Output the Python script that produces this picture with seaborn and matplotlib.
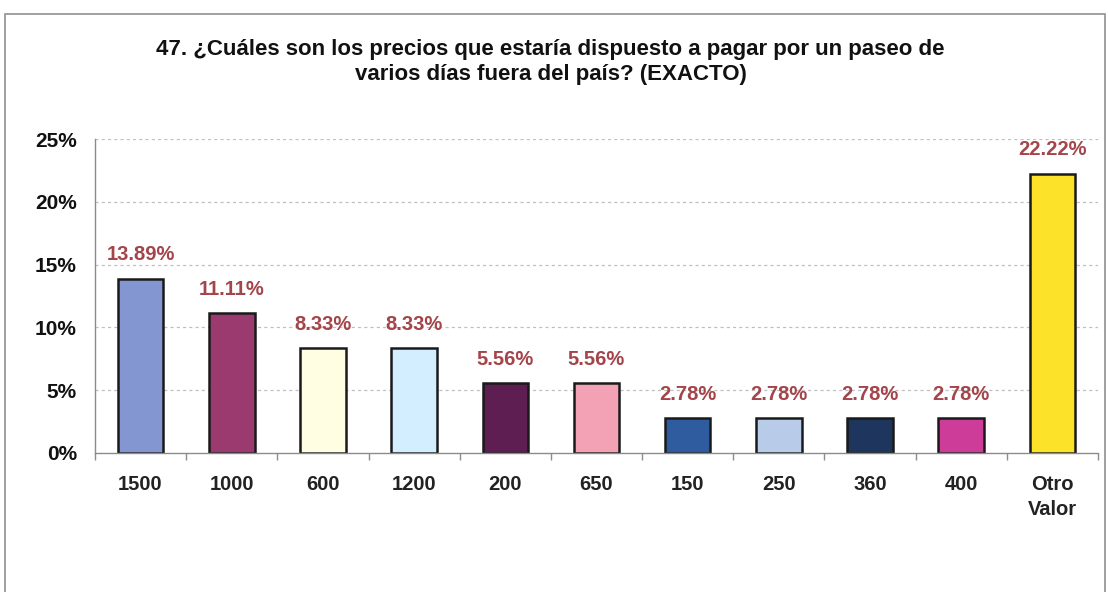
import matplotlib
matplotlib.use("Agg")
import matplotlib.pyplot as plt
from matplotlib.patches import Rectangle
from matplotlib.ticker import FixedLocator, FuncFormatter
import seaborn as sns
import pandas as pd

categories = ["1500", "1000", "600", "1200", "200", "650", "150", "250", "360", "400", "Otro\nValor"]
values = [13.89, 11.11, 8.33, 8.33, 5.56, 5.56, 2.78, 2.78, 2.78, 2.78, 22.22]
bar_colors = ["#8396D2", "#9A3A6E", "#FFFDE2", "#D2EEFF", "#5E1E52", "#F2A2B4",
              "#2F5C9E", "#B8CCEA", "#1E355E", "#CC3C98", "#FCE229"]
title = ("47. ¿Cuáles son los precios que estaría dispuesto a pagar por un paseo de\n"
         "varios días fuera del país? (EXACTO)")

df = pd.DataFrame({"precio": categories, "pct": values})

sns.set_theme(style="white")
plt.rcParams["font.family"] = ["Liberation Sans", "DejaVu Sans"]

fig = plt.figure(figsize=(11.08, 5.92), dpi=100)
fig.patch.set_facecolor("white")
ax = fig.add_axes([0.0857, 0.2348, 0.9053, 0.5304])

sns.barplot(data=df, x="precio", y="pct", hue="precio", palette=bar_colors,
            legend=False, width=0.5, edgecolor="#1a1a1a", linewidth=1.8,
            saturation=1, ax=ax)

ax.set_ylim(0, 25)
ax.set_xlim(-0.5, len(categories) - 0.5)
ax.yaxis.set_major_locator(FixedLocator([0, 5, 10, 15, 20, 25]))
ax.yaxis.set_major_formatter(FuncFormatter(lambda v, p: f"{v:.0f}%"))
ax.set_xlabel("")
ax.set_ylabel("")

for y in [5, 10, 15, 20, 25]:
    ax.axhline(y, color="#c0c0c0", linestyle=(0, (2.5, 2.5)), linewidth=0.9, zorder=0)

for spine in ["top", "right"]:
    ax.spines[spine].set_visible(False)
for spine in ["left", "bottom"]:
    ax.spines[spine].set_color("#8c8c8c")
    ax.spines[spine].set_linewidth(1.0)

ax.tick_params(axis="y", which="major", direction="out", length=5, width=1,
               color="#8c8c8c", labelsize=15, pad=8)
ax.tick_params(axis="x", which="major", length=0, labelsize=14.5, pad=16)
ax.set_xticks([i - 0.5 for i in range(len(categories) + 1)], minor=True)
ax.tick_params(axis="x", which="minor", direction="out", length=5, width=1,
               color="#8c8c8c", bottom=True)
for lbl in ax.get_yticklabels():
    lbl.set_fontweight("bold")
    lbl.set_color("#111111")
for lbl in ax.get_xticklabels():
    lbl.set_fontweight("bold")
    lbl.set_color("#222222")
    lbl.set_linespacing(1.4)

for i, v in enumerate(values):
    ax.text(i, v + 1.15, f"{v:.2f}%", ha="center", va="bottom", fontsize=14.5,
            fontweight="bold", color="#A3454A")

fig.text(0.497, 0.895, title, ha="center", va="center", fontsize=16,
         fontweight="bold", color="#111111", linespacing=1.25)

fig.patches.append(Rectangle((5 / 1108, -0.01), 1100 / 1108, 1 - 14 / 592 + 0.01,
                             transform=fig.transFigure, fill=False,
                             edgecolor="#909090", linewidth=1.2))

fig.savefig("out.png", dpi=100, facecolor="white")
